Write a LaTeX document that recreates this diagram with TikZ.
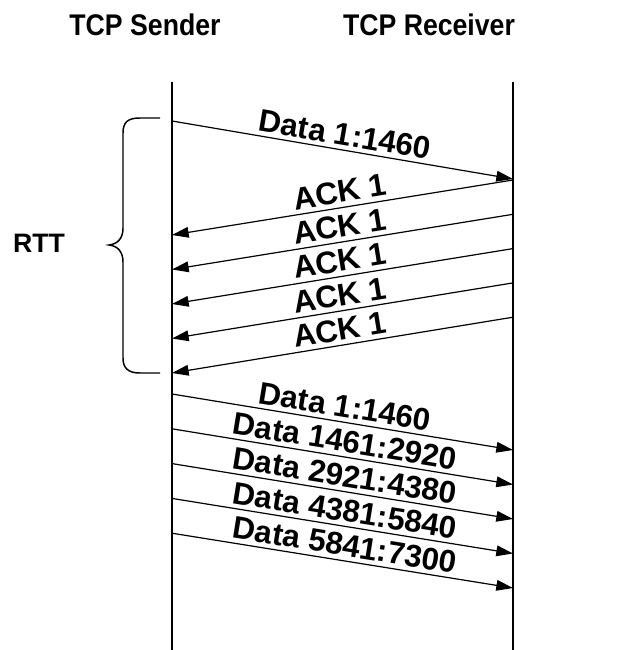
\documentclass[tikz,border=0pt]{standalone}
\usepackage{fontspec}
\setmainfont{Liberation Sans}
\usetikzlibrary{arrows.meta}

\begin{document}
\begin{tikzpicture}[x=0.75pt, y=-0.75pt,
    lbl/.style={font=\fontsize{20}{24}\selectfont\bfseries},
    msg/.style={line width=0.9pt, -{Triangle[length=12.5pt, width=8pt]}},
    msgtxt/.style={font=\fontsize{23.5}{28}\selectfont\bfseries, sloped, above, inner sep=3pt}]
    \useasboundingbox (0,0) rectangle (619,650);
    % hosts and life lines
    \node[lbl] (snd) at (145,25) {\scalebox{1}[1.12]{TCP Sender}};
    \node[lbl] (rcv) at (429,25) {\scalebox{1}[1.12]{TCP Receiver}};
    \coordinate (stop) at (172,82); \coordinate (sbot) at (172,650);
    \coordinate (rtop) at (513,82); \coordinate (rbot) at (513,650);
    \draw[line width=1.4pt] (stop) -- (sbot);
    \draw[line width=1.4pt] (rtop) -- (rbot);
    % first segment
    \coordinate (d0) at (172,121); \coordinate (e0) at (513,179);
    \draw[msg] (d0) -- node[msgtxt] {Data 1:1460} (e0);
    % duplicate acks
    \foreach \i in {0,...,4} {
        \coordinate (r\i) at (513,{180+34.3*\i});
        \coordinate (s\i) at (172,{235+34.5*\i});
        \draw[msg] (r\i) -- node[msgtxt] {ACK 1} (s\i);
    }
    % burst of segments
    \foreach \i/\seg in {0/1:1460, 1/1461:2920, 2/2921:4380, 3/4381:5840, 4/5841:7300} {
        \coordinate (p\i) at (172,{394+34.8*\i});
        \coordinate (q\i) at (513,{450+34.5*\i});
        \draw[msg] (p\i) -- node[msgtxt] {Data \seg} (q\i);
    }
    % rtt brace
    \draw[line width=1.1pt] (160,118) -- (140,118) .. controls (128,118) and (123,122) .. (123,133)
        -- (123,228) .. controls (123,238) and (118,244) .. (109,245)
        .. controls (118,246) and (123,252) .. (123,262)
        -- (123,358) .. controls (123,368) and (128,373) .. (140,373) -- (160,373);
    \node[lbl] (rtt) at (39,243) {RTT};
\end{tikzpicture}
\end{document}
